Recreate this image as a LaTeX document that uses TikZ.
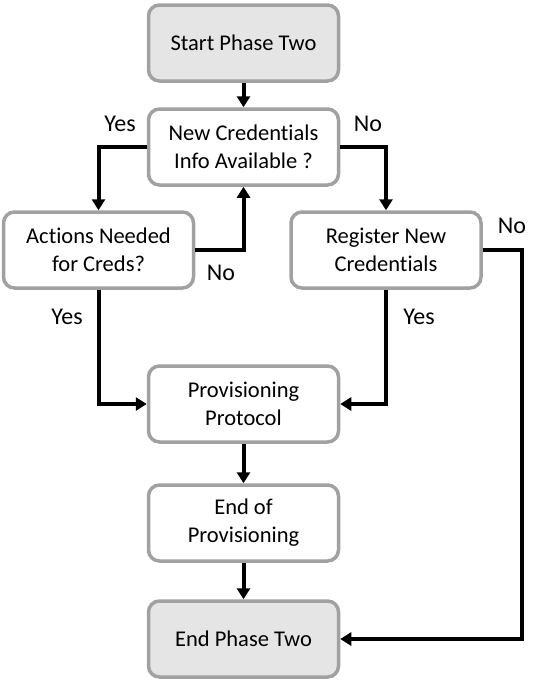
\documentclass[tikz,border=0pt]{standalone}
\usepackage{fontspec}
\setmainfont{Carlito}[Ligatures=NoCommon]
\usetikzlibrary{arrows.meta}
\tikzset{
  box/.style={draw=black!37, line width=3.5pt, rounded corners=11pt, fill=white,
    minimum width=190pt, minimum height=76pt, inner sep=0pt, align=center,
    font=\fontsize{22.5}{28}\selectfont},
  term/.style={box, fill=black!10},
  conn/.style={line width=4pt, -{Triangle[length=11pt,width=13pt]}},
  lbl/.style={font=\fontsize{24}{28}\selectfont, inner sep=0pt}
}
\begin{document}
\begin{tikzpicture}[x=1pt,y=-1pt]
\useasboundingbox (0,0) rectangle (537,681);
\node[term] (start) at (243.5,43) {Start Phase Two};
\node[box] (newc) at (243.5,147) {New Credentials\\Info Available ?};
\node[box] (act) at (98.5,250) {Actions Needed\\for Creds?};
\node[box] (reg) at (386,250) {Register New\\Credentials};
\node[box] (prov) at (243.5,404) {Provisioning\\Protocol};
\node[box] (endp) at (243.5,523) {End of\\Provisioning};
\node[term] (endt) at (243.5,639) {End Phase Two};
\coordinate (c1) at (522,250);
\draw[conn] (start) -- (newc);
\draw[conn] (newc.west) -| (act.north);
\draw[conn] (newc.east) -| (reg.north);
\draw[conn] (act.east) -| (newc.south);
\draw[conn] (act.south) |- (prov.west);
\draw[conn] (reg.south) |- (prov.east);
\draw[conn] (reg.east) -- (c1) |- (endt.east);
\draw[conn] (prov) -- (endp);
\draw[conn] (endp) -- (endt);
\node[lbl] (l1) at (120,124) {Yes};
\node[lbl] (l2) at (368,124) {No};
\node[lbl] (l3) at (221,273) {No};
\node[lbl] (l4) at (67,317) {Yes};
\node[lbl] (l5) at (419,317) {Yes};
\node[lbl] (l6) at (512,226) {No};
\end{tikzpicture}
\end{document}
